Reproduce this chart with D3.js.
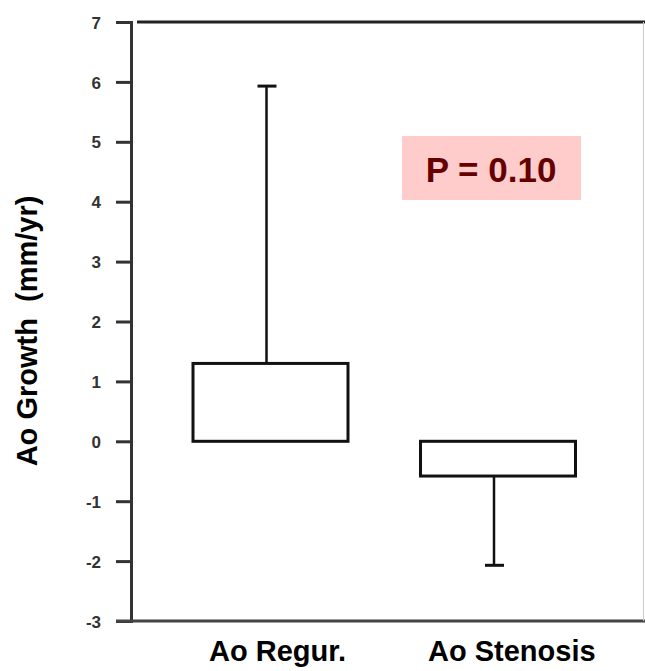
<!DOCTYPE html>
<html>
<head>
<meta charset="utf-8">
<script src="https://cdn.jsdelivr.net/npm/d3@7"></script>
<style>
  body { margin: 0; background: #fff; }
  svg { display: block; font-family: "Liberation Sans", Arial, sans-serif; }
</style>
</head>
<body>
<svg width="645" height="671"></svg>
<script>
// data
var categories = ["Ao Regur.", "Ao Stenosis"];
var boxLow = [0, -0.58];
var boxHigh = [1.3, 0];
var whiskerEnd = [5.93, -2.07];
var yTicks = [-3, -2, -1, 0, 1, 2, 3, 4, 5, 6, 7];
var pLabel = "P = 0.10";

var svg = d3.select("svg"),
    W = +svg.attr("width"),
    H = +svg.attr("height");

var y = d3.scaleLinear().domain([-3, 7]).range([621, 22]);
var x = d3.scalePoint().domain(categories).range([270.5, 498]);
var boxW = 155;

// y axis
var yAxis = svg.append("g")
    .attr("transform", "translate(131,0)")
    .call(d3.axisLeft(y).tickValues(yTicks).tickSize(15).tickPadding(15)
      .tickFormat(function(d) { return String(d); }));
yAxis.select(".domain").attr("stroke", "#333").attr("stroke-width", 3);
yAxis.selectAll(".tick line").attr("stroke", "#333").attr("stroke-width", 3);
yAxis.selectAll(".tick text")
    .attr("fill", "#333")
    .attr("dy", "0.36em")
    .style("font-size", "17px")
    .style("font-weight", "bold");

// frame
svg.append("line")
    .attr("x1", 137).attr("x2", W).attr("y1", y(7)).attr("y2", y(7))
    .attr("stroke", "#222").attr("stroke-width", 3);
svg.append("line")
    .attr("x1", 116).attr("x2", W).attr("y1", y(-3)).attr("y2", y(-3))
    .attr("stroke", "#444").attr("stroke-width", 3);
svg.append("line")
    .attr("x1", 643.5).attr("x2", 643.5).attr("y1", y(7)).attr("y2", y(-3))
    .attr("stroke", "#ccc").attr("stroke-width", 1);

var data = categories.map(function(c, i) {
  return {cat: c, lo: boxLow[i], hi: boxHigh[i], w: whiskerEnd[i]};
});

var g = svg.selectAll(".box").data(data).enter().append("g").attr("class", "box");

// whiskers
g.append("line")
    .attr("x1", function(d) { return x(d.cat) - 4; })
    .attr("x2", function(d) { return x(d.cat) - 4; })
    .attr("y1", function(d) { return d.w > d.hi ? y(d.hi) : y(d.lo); })
    .attr("y2", function(d) { return y(d.w); })
    .attr("stroke", "#111").attr("stroke-width", 2.5);
g.append("line")
    .attr("x1", function(d) { return x(d.cat) - 13; })
    .attr("x2", function(d) { return x(d.cat) + 6; })
    .attr("y1", function(d) { return y(d.w); })
    .attr("y2", function(d) { return y(d.w); })
    .attr("stroke", "#111").attr("stroke-width", 3);

// boxes
g.append("rect")
    .attr("x", function(d) { return x(d.cat) - boxW / 2; })
    .attr("y", function(d) { return y(d.hi); })
    .attr("width", boxW)
    .attr("height", function(d) { return y(d.lo) - y(d.hi); })
    .attr("fill", "#fff")
    .attr("stroke", "#111").attr("stroke-width", 3);

// category labels
svg.selectAll(".cat").data(categories).enter().append("text")
    .attr("class", "cat")
    .attr("x", function(d, i) { return i == 0 ? x(d) + 7 : x(d) - 70; })
    .attr("y", 661)
    .attr("text-anchor", function(d, i) { return i == 0 ? "middle" : "start"; })
    .style("font-size", "29px")
    .style("font-weight", "bold")
    .text(function(d) { return d; });

// y title
svg.append("text")
    .attr("transform", "translate(37,331) rotate(-90)")
    .attr("text-anchor", "middle")
    .style("font-size", "29px")
    .style("font-weight", "bold")
    .style("white-space", "pre")
    .text("Ao Growth  (mm/yr)");

// p value box
svg.append("rect")
    .attr("x", 402).attr("y", 136).attr("width", 179).attr("height", 64)
    .attr("fill", "#ffcccc");
svg.append("text")
    .attr("x", 491).attr("y", 182)
    .attr("text-anchor", "middle")
    .attr("fill", "#660000")
    .style("font-size", "35px")
    .style("font-weight", "bold")
    .text(pLabel);
</script>
</body>
</html>
